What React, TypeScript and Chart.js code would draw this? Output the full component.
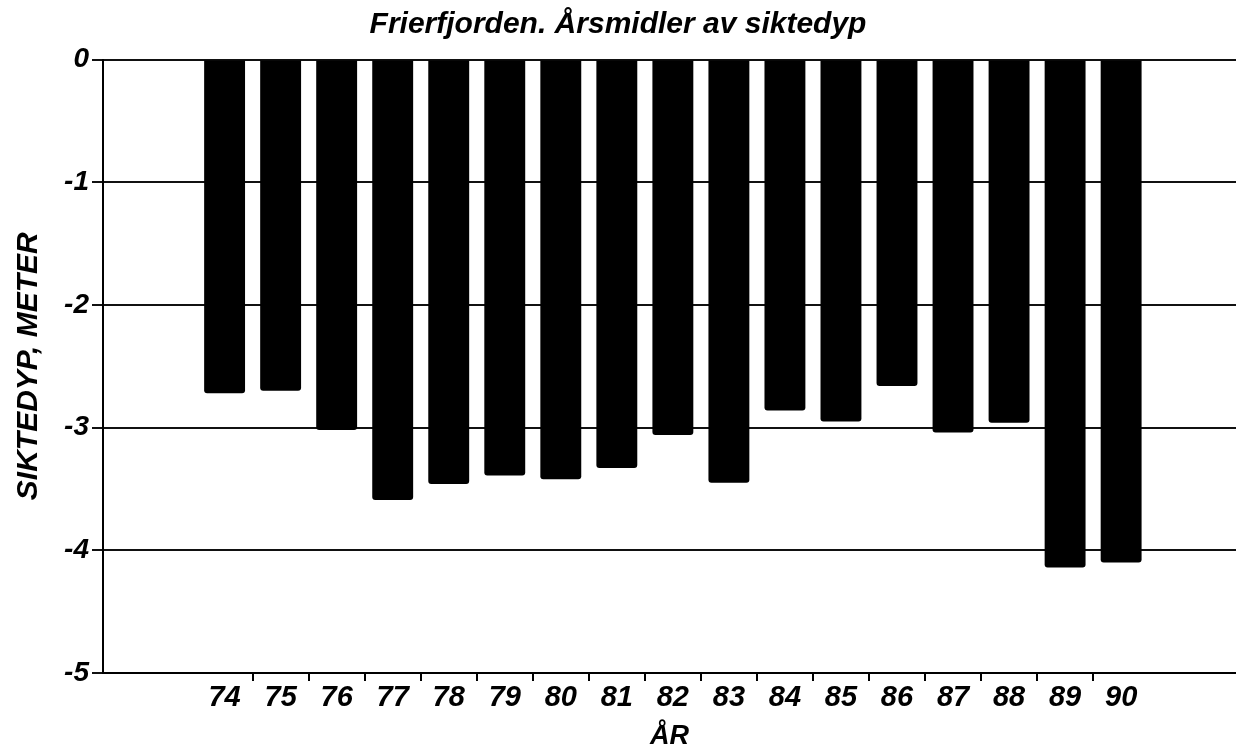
import React, { useEffect, useRef } from 'react';
import { Chart, registerables } from 'chart.js';

Chart.register(...registerables);

// ---- data ----
const years: number[] = [74, 75, 76, 77, 78, 79, 80, 81, 82, 83, 84, 85, 86, 87, 88, 89, 90];
const depths: number[] = [-2.72, -2.70, -3.02, -3.59, -3.46, -3.39, -3.42, -3.33, -3.06, -3.45, -2.86, -2.95, -2.66, -3.04, -2.96, -4.14, -4.10];
const yTickValues: number[] = [0, -1, -2, -3, -4, -5];
const chartTitle = 'Frierfjorden. Årsmidler av siktedyp';
const xAxisTitle = 'ÅR';
const yAxisTitle = 'SIKTEDYP, METER';
const xRange: number[] = [71.83, 92.05];

const FAMILY = '"Liberation Sans", Arial, Helvetica, sans-serif';

export default function App() {
  const ref = useRef<HTMLCanvasElement>(null);

  useEffect(() => {
    const canvas = ref.current;
    if (!canvas) return;
    const chart = new Chart(canvas, {
      type: 'bar',
      data: {
        datasets: [
          {
            label: 'Siktedyp',
            data: years.map((x, i) => ({ x, y: depths[i] })),
            backgroundColor: '#000',
            borderWidth: 0,
            borderRadius: 3,
            barPercentage: 0.73,
            categoryPercentage: 1,
          },
        ],
      },
      options: {
        animation: false,
        responsive: true,
        maintainAspectRatio: false,
        layout: { padding: 0 },
        plugins: {
          legend: { display: false },
          tooltip: { enabled: false },
          title: {
            display: true,
            text: chartTitle,
            color: '#000',
            font: { family: FAMILY, size: 30, weight: 'bold', style: 'italic', lineHeight: 1.2 },
            padding: { top: 7, bottom: 16.5 },
          },
        },
        scales: {
          x: {
            type: 'linear',
            min: xRange[0],
            max: xRange[1],
            offset: false,
            bounds: 'data',
            afterBuildTicks: (axis: any) => {
              axis.ticks = years.map((v) => ({ value: v }));
            },
            afterFit: (axis: any) => {
              axis.height = 74;
            },
            ticks: {
              autoSkip: false,
              maxRotation: 0,
              padding: 0,
              color: '#000',
              font: { family: FAMILY, size: 29, weight: 'bold', style: 'italic' },
              callback: (v: any) => String(v),
            },
            grid: {
              offset: true,
              drawOnChartArea: false,
              drawTicks: true,
              tickLength: 8,
              lineWidth: 2,
              color: (ctx: any) => (ctx.type === 'tick' && ctx.index > 0 ? '#000' : 'rgba(0,0,0,0)'),
            },
            border: { display: true, color: '#000', width: 2 },
            title: {
              display: true,
              text: xAxisTitle,
              color: '#000',
              font: { family: FAMILY, size: 27, weight: 'bold', style: 'italic', lineHeight: 0.8 },
              padding: { top: 0, bottom: 0 },
            },
          },
          y: {
            type: 'linear',
            min: -5,
            max: 0,
            afterBuildTicks: (axis: any) => {
              axis.ticks = yTickValues.map((v) => ({ value: v }));
            },
            afterFit: (axis: any) => {
              axis.width = 103;
            },
            ticks: {
              padding: 3,
              color: '#000',
              font: { family: FAMILY, size: 28, weight: 'bold', style: 'italic' },
              callback: (v: any) => String(v),
            },
            grid: {
              drawOnChartArea: true,
              drawTicks: true,
              tickLength: 11,
              lineWidth: 2,
              color: '#111',
            },
            border: { display: true, color: '#000', width: 2 },
            title: {
              display: true,
              text: yAxisTitle,
              color: '#000',
              font: { family: FAMILY, size: 30, weight: 'bold', style: 'italic', lineHeight: 1.2 },
              padding: { top: 11, bottom: 0 },
            },
          },
        },
      },
    });
    return () => chart.destroy();
  }, []);

  return (
    <div style={{ position: 'absolute', left: 0, top: 0, width: 1236, height: 747, background: '#fff' }}>
      <canvas ref={ref} />
    </div>
  );
}
